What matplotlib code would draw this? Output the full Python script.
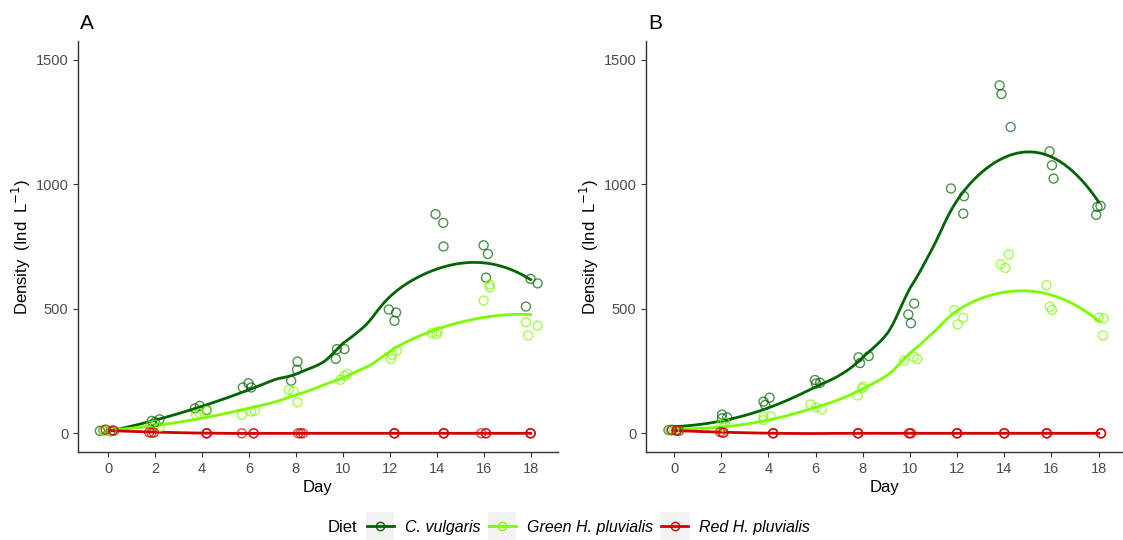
import matplotlib
matplotlib.use('Agg')
import matplotlib.pyplot as plt
from matplotlib.lines import Line2D
from matplotlib.patches import Rectangle
import numpy as np

plt.rcParams['font.family'] = ['Liberation Sans', 'DejaVu Sans']

# jittered sampling days and densities (Ind L-1)
# panel A
a_cv_day = [-0.35, -0.2, 0.1, 1.86, 2.19, 2.0, 3.7, 3.9, 4.2, 5.74, 5.98, 6.1,
            7.8, 8.05, 8.07, 9.7, 9.75, 10.07, 11.96, 12.27, 12.2,
            13.95, 14.28, 14.29, 16.0, 16.18, 16.1, 17.8, 18.0, 18.3]
a_cv_val = [10, 12, 8, 50, 56, 45, 100, 110, 94, 184, 201, 184,
            211, 255, 288, 299, 338, 338, 497, 485, 452,
            880, 845, 750, 755, 720, 625, 509, 620, 602]
a_gh_day = [-0.2, -0.1, 0.15, 1.8, 2.0, 2.2, 3.75, 3.9, 4.2, 5.7, 6.1, 6.25,
            7.7, 7.9, 8.07, 9.9, 10.07, 10.2, 12.05, 12.1, 12.3,
            13.8, 14.0, 14.05, 16.0, 16.25, 16.27, 17.8, 17.9, 18.3]
a_gh_val = [10, 9, 8, 30, 35, 25, 74, 80, 90, 74, 87, 91,
            174, 168, 125, 215, 231, 239, 298, 315, 332,
            402, 398, 409, 533, 597, 586, 446, 393, 432]
a_rh_day = [-0.1, 0.2, 0.25, 1.75, 1.85, 1.95, 4.2, 4.2, 4.2, 5.7, 6.2, 6.2,
            8.1, 8.3, 8.2, 12.2, 12.2, 12.2, 14.3, 14.3, 14.3,
            15.9, 16.1, 16.1, 18.0, 18.0, 18.0]
a_rh_val = [15, 12, 10, 4, 2, 3, 0, 0, 0, 0, 0, 0,
            0, 0, 0, 0, 0, 0, 0, 0, 0,
            0, 0, 0, 0, 0, 0]

# panel B
b_cv_day = [-0.24, -0.1, 0.1, 2.03, 2.03, 2.25, 3.79, 3.86, 4.05, 5.97, 6.02, 6.19,
            7.82, 7.88, 8.25, 9.93, 10.04, 10.18, 11.74, 12.26, 12.29,
            13.8, 13.88, 14.27, 15.92, 16.02, 16.09, 17.9, 17.95, 18.08]
b_cv_val = [13, 12, 10, 75, 60, 64, 127, 114, 143, 214, 200, 203,
            305, 282, 310, 477, 442, 521, 983, 882, 952,
            1397, 1362, 1230, 1132, 1076, 1023, 877, 909, 913]
b_gh_day = [-0.17, 0.0, 0.2, 2.0, 2.1, 2.15, 3.79, 3.79, 4.1, 5.79, 6.02, 6.26,
            7.78, 7.97, 8.02, 9.75, 10.17, 10.31, 11.88, 12.02, 12.26,
            13.84, 14.05, 14.19, 15.79, 15.93, 16.02, 18.0, 18.22, 18.19]
b_gh_val = [13, 11, 10, 35, 25, 45, 53, 67, 67, 116, 104, 96,
            152, 180, 187, 291, 307, 298, 495, 437, 464,
            679, 664, 718, 595, 508, 495, 464, 461, 393]
b_rh_day = [-0.1, 0.1, 0.2, 1.95, 2.05, 2.1, 4.2, 4.2, 4.2, 7.8, 7.8, 7.8,
            9.95, 10.0, 10.05, 12.0, 12.0, 12.0, 14.0, 14.0, 14.0,
            15.8, 15.8, 15.8, 18.1, 18.1, 18.1]
b_rh_val = [14, 12, 10, 5, 3, 2, 0, 0, 0, 0, 0, 0,
            0, 0, 0, 0, 0, 0, 0, 0, 0,
            0, 0, 0, 0, 0, 0]

diets = ['C. vulgaris', 'Green H. pluvialis', 'Red H. pluvialis']
colors = ['#006400', '#7CFC00', '#D40000']
x_ticks = [0, 2, 4, 6, 8, 10, 12, 14, 16, 18]
y_ticks = [0, 500, 1000, 1500]


def loess(x, y, xs, span=0.75):
    # local quadratic fit with tricube weights (as geom_smooth default)
    x = np.asarray(x, float)
    y = np.asarray(y, float)
    q = int(np.floor(len(x) * span))
    out = []
    for x0 in xs:
        d = np.abs(x - x0)
        h = np.sort(d)[q - 1] * 1.0001
        w = (1 - (d / h) ** 3) ** 3
        w[d >= h] = 0
        X = np.vstack([np.ones_like(x), x - x0, (x - x0) ** 2]).T
        W = np.sqrt(w)
        beta = np.linalg.lstsq(X * W[:, None], y * W, rcond=None)[0]
        out.append(beta[0])
    return np.array(out)


def draw_panel(ax, series, title, xlim):
    for (day, val), col in zip(series, colors):
        day = np.asarray(day)
        nominal = np.round(day / 2) * 2
        xs = np.linspace(nominal.min(), nominal.max(), 100)
        ax.plot(xs, loess(nominal, val, xs), color=col, lw=2, zorder=3)
        ax.scatter(day, val, s=42, facecolors='none', edgecolors=col,
                   linewidths=1.0, alpha=0.7, zorder=4)
    ax.set_xlim(*xlim)
    ax.set_ylim(-75, 1575)
    ax.set_xticks(x_ticks)
    ax.set_yticks(y_ticks)
    ax.tick_params(labelsize=10.5, labelcolor='#4d4d4d', color='#333333',
                   length=3.5, width=0.8)
    for s in ['top', 'right']:
        ax.spines[s].set_visible(False)
    for s in ['left', 'bottom']:
        ax.spines[s].set_linewidth(1.0)
        ax.spines[s].set_color('#333333')
    ax.set_xlabel('Day', fontsize=12, labelpad=3)
    ax.set_ylabel('Density  (Ind  L$^{-1}$)', fontsize=12, labelpad=2)
    ax.set_title(title, loc='left', fontsize=15, x=0.005, pad=9)


fig = plt.figure(figsize=(11.23, 5.4), dpi=100)
ax1 = fig.add_axes([0.0695, 0.163, 0.427, 0.761])
ax2 = fig.add_axes([0.5753, 0.163, 0.424, 0.761])

draw_panel(ax1, [(a_cv_day, a_cv_val), (a_gh_day, a_gh_val), (a_rh_day, a_rh_val)],
           'A', (-1.28, 19.15))
draw_panel(ax2, [(b_cv_day, b_cv_val), (b_gh_day, b_gh_val), (b_rh_day, b_rh_val)],
           'B', (-1.19, 19.0))

handles = [Line2D([], [], color=c, lw=2, marker='o', markersize=6,
                  markerfacecolor='none', markeredgewidth=1.0) for c in colors]
leg = fig.legend(handles, diets, loc='center', bbox_to_anchor=(0.524, 0.024),
                 ncol=3, frameon=False, handlelength=1.7, handletextpad=0.7,
                 columnspacing=0.5, prop={'style': 'italic', 'size': 11.5})
fig.text(0.292, 0.024, 'Diet', fontsize=12, va='center', ha='left')

# grey key backgrounds like ggplot
fig.canvas.draw()
for h in leg.legend_handles:
    bb = h.get_window_extent()
    cx = (bb.x0 + bb.x1) / 2
    cy = (bb.y0 + bb.y1) / 2
    fig.patches.append(Rectangle(((cx - 14) / 1123, (cy - 14) / 540), 28 / 1123, 28 / 540,
                                 transform=fig.transFigure, facecolor='#f2f2f2',
                                 edgecolor='none', zorder=0))

fig.savefig('out.png', dpi=100)
